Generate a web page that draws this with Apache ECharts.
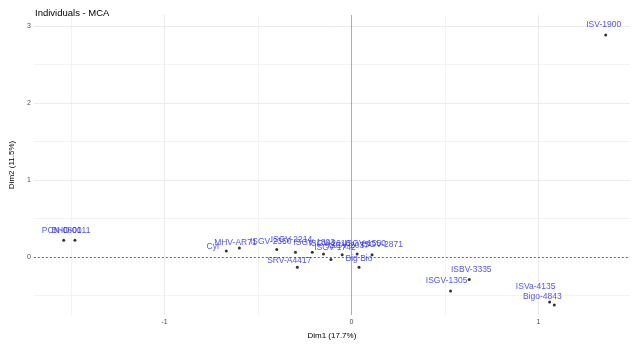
<!DOCTYPE html>
<html>
<head>
<meta charset="utf-8">
<script src="https://cdn.jsdelivr.net/npm/echarts@6/dist/echarts.min.js"></script>
<style>
  html, body { margin: 0; padding: 0; background: #fff; }
  #chart { width: 638px; height: 345px; }
</style>
</head>
<body>
<div id="chart"></div>
<script>
// Individual coordinates on the first two MCA dimensions
const names = [
  'ISV-1900', 'PCN-0801', 'BHD-0011', 'Cyr', 'MHV-AR71',
  'ISGV-2350', 'ISGV-2214', 'SRV-A4417', 'ISGV-1803', 'ISGV-2610',
  'ISGV-1742', 'ISGV-2037', 'ISGV-1550', 'ISGV-2871', 'Big Bio',
  'ISGV-1305', 'ISBV-3335', 'ISVa-4135', 'Bigo-4843'
];
const dim1 = [
  1.36, -1.54, -1.48, -0.67, -0.60,
  -0.40, -0.30, -0.29, -0.21, -0.15,
  -0.11, -0.05, 0.03, 0.11, 0.04,
  0.53, 0.63, 1.06, 1.085
];
const dim2 = [
  2.88, 0.22, 0.22, 0.08, 0.12,
  0.10, 0.065, -0.13, 0.065, 0.04,
  -0.03, 0.03, 0.04, 0.03, -0.13,
  -0.44, -0.29, -0.58, -0.62
];

// Axis ticks and background grid values
const xTicks = [-1, 0, 1];
const yTicks = [0, 1, 2, 3];
const xGrid = [-1.5, -1, -0.5, 0.5, 1, 1.5];
const yGrid = [-0.5, 0.5, 1, 1.5, 2, 2.5, 3];

const title = 'Individuals - MCA';
const xName = 'Dim1 (17.7%)';
const yName = 'Dim2 (11.5%)';

// label placement around each point (repel-style layout)
const labelPos = [
  'top', 'top', 'top', 'left', 'top',
  'top', 'top', 'top', 'top', 'top',
  'top', 'top', 'top', 'top', 'top',
  'top', 'top', 'top', 'top'
];
const labelOff = [
  [-2, -2], [-2, -2], [-4, -2], [-3, -4], [-4, 3],
  [-6, 0], [-4, -4], [-8, 1], [2, -1], [6, -2],
  [4, -4], [6, -1], [8, -2], [10, -2], [0, -1],
  [-4, -2], [2, -2], [-14, -7], [-12, 0]
];

const FONT = 'Liberation Sans, Arial, sans-serif';
const points = names.map((n, i) => ({
  value: [dim1[i], dim2[i]],
  name: n,
  label: { position: labelPos[i], offset: labelOff[i] }
}));

const gridLines = xGrid.map(v => ({ xAxis: v, lineStyle: { color: '#ebebeb', width: Number.isInteger(v) ? 1 : 0.6, type: 'solid' } }))
  .concat(yGrid.map(v => ({ yAxis: v, lineStyle: { color: '#ebebeb', width: Number.isInteger(v) ? 1 : 0.6, type: 'solid' } })));

const chart = echarts.init(document.getElementById('chart'), null, { renderer: 'canvas' });
chart.setOption({
  animation: false,
  backgroundColor: '#ffffff',
  title: {
    text: title, left: 30, top: 3,
    textStyle: { fontFamily: FONT, fontSize: 9.5, fontWeight: 'normal', color: '#000' }
  },
  grid: { left: 30, right: 8, top: 15, bottom: 30 },
  xAxis: {
    type: 'value', min: -1.7, max: 1.49,
    name: xName, nameLocation: 'middle', nameGap: 17,
    nameTextStyle: { fontFamily: FONT, fontSize: 8, color: '#000' },
    axisLine: { show: false },
    axisTick: { show: false },
    splitLine: { show: false },
    axisLabel: { customValues: xTicks, fontFamily: FONT, fontSize: 7, color: '#4d4d4d', margin: 4 }
  },
  yAxis: {
    type: 'value', min: -0.75, max: 3.14,
    name: yName, nameLocation: 'middle', nameGap: 11, nameRotate: 90,
    nameTextStyle: { fontFamily: FONT, fontSize: 8, color: '#000' },
    axisLine: { show: false },
    axisTick: { show: false },
    splitLine: { show: false },
    axisLabel: { customValues: yTicks, fontFamily: FONT, fontSize: 7, color: '#4d4d4d', margin: 3 }
  },
  series: [
    {
      type: 'scatter',
      silent: true,
      data: [],
      markLine: {
        silent: true, symbol: 'none', label: { show: false },
        data: gridLines.concat([
          { yAxis: 0, lineStyle: { color: '#444', width: 0.8, type: [2, 2] } },
          { xAxis: 0, lineStyle: { color: '#777', width: 0.6, type: 'solid' } }
        ])
      }
    },
    {
      type: 'scatter',
      symbolSize: 3,
      itemStyle: { color: '#000' },
      data: points,
      label: {
        show: true,
        formatter: p => p.name,
        fontFamily: FONT, fontSize: 8.5, color: '#1f1fff', distance: 2
      },
      z: 5
    }
  ]
});
</script>
</body>
</html>
